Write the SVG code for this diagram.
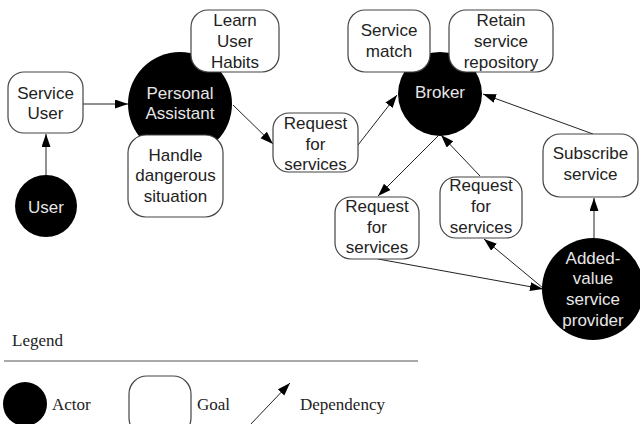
<svg xmlns="http://www.w3.org/2000/svg" width="640" height="424" viewBox="0 0 640 424">
<defs>
<style>
.actor{fill:#000}
.goal{fill:#fff;stroke:#444;stroke-width:1.2}
.t{font-family:"Liberation Sans",Arial,sans-serif;font-size:17px;fill:#222;text-anchor:middle}
.w{fill:#e6e6e6}
.lg{font-family:"Liberation Serif","Times New Roman",serif;font-size:17px;fill:#222}
.dep{stroke:#222;stroke-width:1;fill:none;marker-end:url(#ah)}
</style>
<marker id="ah" markerUnits="userSpaceOnUse" markerWidth="14" markerHeight="10" refX="13" refY="4.5" orient="auto">
<path d="M0,0 L13,4.5 L0,9 z" fill="#000"/>
</marker>
</defs>
<rect width="640" height="424" fill="#fff"/>

<g id="connectors">
<line class="dep" x1="46" y1="175" x2="46" y2="134"/>
<line class="dep" x1="83" y1="104" x2="128" y2="104"/>
<line class="dep" x1="233" y1="105" x2="273" y2="144"/>
<line class="dep" x1="358" y1="145" x2="397" y2="95"/>
<line class="dep" x1="593" y1="134" x2="483" y2="94"/>
<line class="dep" x1="480" y1="176" x2="441" y2="135"/>
<line class="dep" x1="438" y1="136" x2="378" y2="196"/>
<line class="dep" x1="378" y1="259" x2="543" y2="289"/>
<line class="dep" x1="543" y1="288" x2="484" y2="239"/>
<line class="dep" x1="594" y1="238" x2="594" y2="198"/>
</g>

<g id="user">
<circle class="actor" cx="46" cy="206" r="31"/>
<text class="t w" x="46" y="213">User</text>
</g>
<g id="service-user">
<rect class="goal" x="8" y="72" width="75" height="61" rx="16"/>
<text class="t" x="45.5" y="99">Service</text>
<text class="t" x="45.5" y="119">User</text>
</g>
<g id="personal-assistant">
<circle class="actor" cx="180" cy="104" r="52"/>
<text class="t w" x="180" y="99">Personal</text>
<text class="t w" x="180" y="119">Assistant</text>
</g>
<g id="learn-user-habits">
<rect class="goal" x="191" y="10" width="88" height="62" rx="17"/>
<text class="t" x="235" y="26">Learn</text>
<text class="t" x="235" y="47">User</text>
<text class="t" x="235" y="68">Habits</text>
</g>
<g id="handle-dangerous">
<rect class="goal" x="128" y="135" width="95" height="82" rx="18"/>
<text class="t" x="175.5" y="161">Handle</text>
<text class="t" x="175.5" y="181">dangerous</text>
<text class="t" x="175.5" y="202">situation</text>
</g>
<g id="request-1">
<rect class="goal" x="273" y="113" width="85" height="59" rx="16"/>
<text class="t" x="315.5" y="129">Request</text>
<text class="t" x="315.5" y="150">for</text>
<text class="t" x="315.5" y="170">services</text>
</g>
<g id="broker">
<circle class="actor" cx="440" cy="94" r="42"/>
<text class="t w" x="440" y="98">Broker</text>
</g>
<g id="service-match">
<rect class="goal" x="348" y="10" width="82" height="62" rx="17"/>
<text class="t" x="389" y="36">Service</text>
<text class="t" x="389" y="57">match</text>
</g>
<g id="retain-repository">
<rect class="goal" x="449" y="10" width="104" height="62" rx="17"/>
<text class="t" x="501" y="26">Retain</text>
<text class="t" x="501" y="47">service</text>
<text class="t" x="501" y="68">repository</text>
</g>
<g id="subscribe-service">
<rect class="goal" x="543" y="134" width="95" height="63" rx="17"/>
<text class="t" x="590.5" y="159">Subscribe</text>
<text class="t" x="590.5" y="180">service</text>
</g>
<g id="request-2">
<rect class="goal" x="440" y="177" width="82" height="61" rx="16"/>
<text class="t" x="481" y="191">Request</text>
<text class="t" x="481" y="212">for</text>
<text class="t" x="481" y="233">services</text>
</g>
<g id="request-3">
<rect class="goal" x="335" y="197" width="84" height="62" rx="16"/>
<text class="t" x="377" y="212">Request</text>
<text class="t" x="377" y="233">for</text>
<text class="t" x="377" y="253">services</text>
</g>
<g id="added-value-provider">
<circle class="actor" cx="593" cy="289" r="51"/>
<text class="t w" x="593" y="264">Added-</text>
<text class="t w" x="593" y="284">value</text>
<text class="t w" x="593" y="305">service</text>
<text class="t w" x="593" y="326">provider</text>
</g>

<g id="legend">
<text class="lg" x="12" y="346">Legend</text>
<line x1="4" y1="361" x2="418" y2="361" stroke="#555" stroke-width="1.2"/>
<circle class="actor" cx="25" cy="404" r="22"/>
<text class="lg" x="52" y="410">Actor</text>
<rect class="goal" x="129" y="376" width="62" height="60" rx="18"/>
<text class="lg" x="197" y="410">Goal</text>
<line class="dep" x1="250" y1="425" x2="290" y2="383"/>
<text class="lg" x="300" y="410">Dependency</text>
</g>
</svg>
